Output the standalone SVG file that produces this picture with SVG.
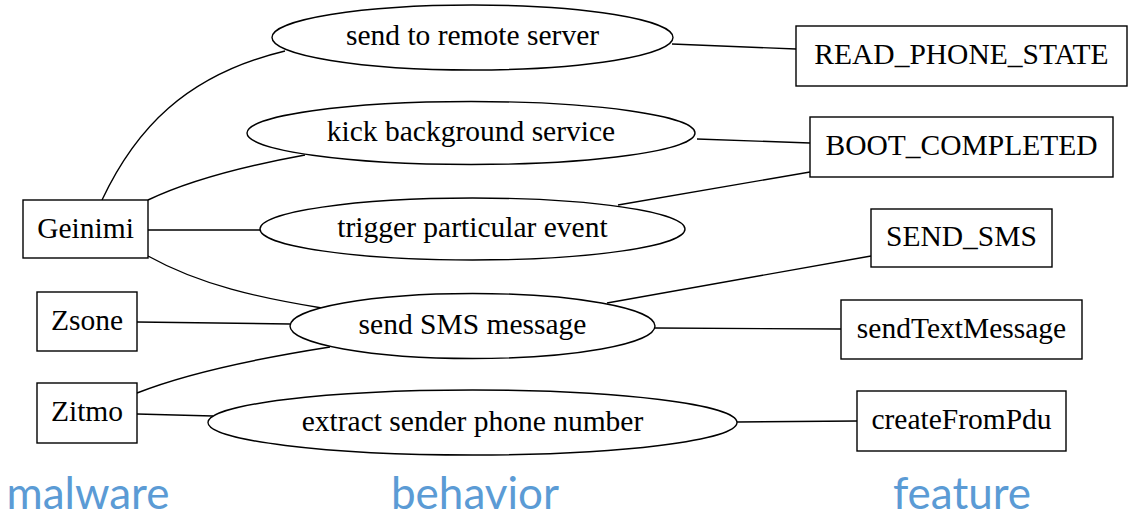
<svg xmlns="http://www.w3.org/2000/svg" width="1133" height="518" viewBox="0 0 1133 518">
<style>
.n{fill:#fff;stroke:#000;stroke-width:1.4}
.t{font-family:'Liberation Serif','DejaVu Serif',Times,serif;font-size:29.5px;fill:#000;text-anchor:middle}
.e{fill:none;stroke:#000;stroke-width:1.4}
.c{font-family:Lato,'Open Sans',sans-serif;font-size:44px;fill:#5B9BD5;text-anchor:middle}
</style>
<rect width="1133" height="518" fill="#fff"/>
<g id="connectors">
<path class="e" d="M102,200 C135,130 185,75 285,51"/>
<path class="e" d="M148,200 C190,180 250,165 305,155"/>
<path class="e" d="M148,230 L260,230"/>
<path class="e" d="M148,256 C200,285 260,298 322,308"/>
<path class="e" d="M137,322 L290,324"/>
<path class="e" d="M137,393 C190,372 260,358 330,347"/>
<path class="e" d="M137,414 L213,416"/>
<path class="e" d="M672,44 L796,49"/>
<path class="e" d="M697,139 L810,143"/>
<path class="e" d="M618,205 L810,172"/>
<path class="e" d="M607,303 L871,256"/>
<path class="e" d="M655,328 L841,329"/>
<path class="e" d="M737,422 L857,421"/>
</g>
<g id="geinimi"><rect class="n" x="23" y="200" width="125" height="58"/><text class="t" x="85.5" y="238">Geinimi</text></g>
<g id="zsone"><rect class="n" x="37" y="292" width="100" height="59"/><text class="t" x="87" y="330">Zsone</text></g>
<g id="zitmo"><rect class="n" x="37" y="383" width="100" height="60"/><text class="t" x="87" y="421">Zitmo</text></g>
<g id="send_remote"><ellipse class="n" cx="472.5" cy="37.5" rx="200.5" ry="32.5"/><text class="t" x="472.5" y="45">send to remote server</text></g>
<g id="kick"><ellipse class="n" cx="471" cy="133" rx="224" ry="31.5"/><text class="t" x="471" y="141">kick background service</text></g>
<g id="trigger"><ellipse class="n" cx="472.5" cy="229" rx="212.5" ry="31"/><text class="t" x="472.5" y="237">trigger particular event</text></g>
<g id="send_sms"><ellipse class="n" cx="472.5" cy="326" rx="182.5" ry="32.5"/><text class="t" x="472.5" y="334">send SMS message</text></g>
<g id="extract"><ellipse class="n" cx="472.5" cy="422.5" rx="264.5" ry="32.5"/><text class="t" x="472.5" y="430.5">extract sender phone number</text></g>
<g id="read_phone_state"><rect class="n" x="796" y="26" width="331" height="60"/><text class="t" x="961.5" y="64">READ_PHONE_STATE</text></g>
<g id="boot_completed"><rect class="n" x="810" y="117" width="303" height="60"/><text class="t" x="961.5" y="155">BOOT_COMPLETED</text></g>
<g id="send_sms_perm"><rect class="n" x="871" y="209" width="181" height="58"/><text class="t" x="961.5" y="246">SEND_SMS</text></g>
<g id="sendtextmessage"><rect class="n" x="841" y="300" width="241" height="59"/><text class="t" x="961.5" y="338">sendTextMessage</text></g>
<g id="createfrompdu"><rect class="n" x="857" y="391" width="209" height="60"/><text class="t" x="961.5" y="429">createFromPdu</text></g>
<g id="captions">
<text class="c" x="88" y="509">malware</text>
<text class="c" x="475" y="509">behavior</text>
<text class="c" x="962" y="509">feature</text>
</g>
</svg>
